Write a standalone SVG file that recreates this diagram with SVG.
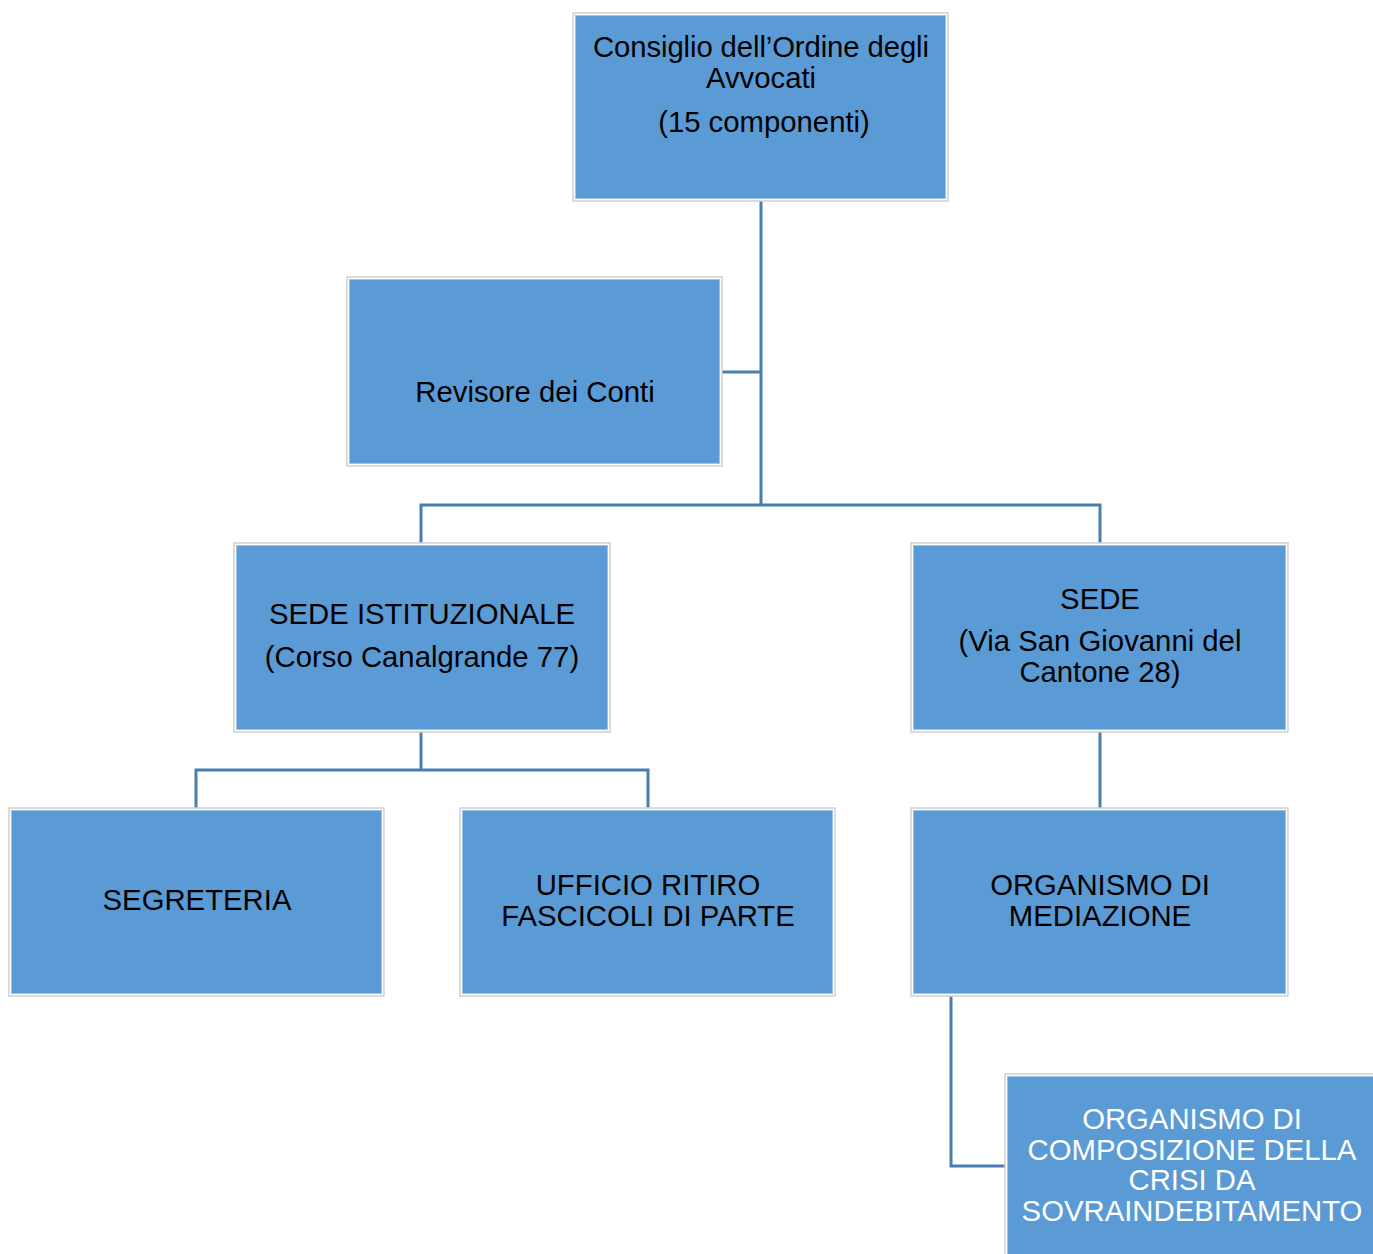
<svg xmlns="http://www.w3.org/2000/svg" width="1373" height="1254" viewBox="0 0 1373 1254">
<style>
.box{fill:#5B9BD5;stroke:#9DC3E6;stroke-width:1}
.frame{fill:none;stroke:#CFCFCF;stroke-width:1.5}
.t{font-family:"Liberation Sans",Arial,sans-serif;font-size:29.3px;fill:#000;text-anchor:middle}
.w{fill:#fff}
.c{fill:none;stroke:#4A7EAF;stroke-width:3}
</style>
<rect width="1373" height="1254" fill="#fff"/>
<g id="connectors">
<path class="c" d="M761 201V505M722 372H761M421 543V505H1100V543"/>
<path class="c" d="M421 732V770M196 808V770H648V808"/>
<path class="c" d="M1100 732V808"/>
<path class="c" d="M951 996V1166H1005"/>
</g>
<g id="n-consiglio">
<rect class="frame" x="573" y="13" width="375" height="188"/>
<rect class="box" x="575.5" y="15.5" width="370" height="183"/>
<text class="t" x="761" y="57" textLength="336" lengthAdjust="spacing">Consiglio dell’Ordine degli</text>
<text class="t" x="761" y="88">Avvocati</text>
<text class="t" x="764" y="132">(15 componenti)</text>
</g>
<g id="n-revisore">
<rect class="frame" x="347" y="277" width="375" height="189"/>
<rect class="box" x="349.5" y="279.5" width="370" height="184"/>
<text class="t" x="535" y="402">Revisore dei Conti</text>
</g>
<g id="n-sede-ist">
<rect class="frame" x="234" y="543" width="376" height="189"/>
<rect class="box" x="236.5" y="545.5" width="371" height="184"/>
<text class="t" x="422" y="624">SEDE ISTITUZIONALE</text>
<text class="t" x="422" y="667">(Corso Canalgrande 77)</text>
</g>
<g id="n-sede">
<rect class="frame" x="911" y="543" width="377" height="189"/>
<rect class="box" x="913.5" y="545.5" width="372" height="184"/>
<text class="t" x="1100" y="609">SEDE</text>
<text class="t" x="1100" y="651">(Via San Giovanni del</text>
<text class="t" x="1100" y="682">Cantone 28)</text>
</g>
<g id="n-segreteria">
<rect class="frame" x="9" y="808" width="375" height="188"/>
<rect class="box" x="11.5" y="810.5" width="370" height="183"/>
<text class="t" x="197" y="910">SEGRETERIA</text>
</g>
<g id="n-ufficio">
<rect class="frame" x="460" y="808" width="375" height="188"/>
<rect class="box" x="462.5" y="810.5" width="370" height="183"/>
<text class="t" x="648" y="895">UFFICIO RITIRO</text>
<text class="t" x="648" y="926">FASCICOLI DI PARTE</text>
</g>
<g id="n-mediazione">
<rect class="frame" x="911" y="808" width="377" height="188"/>
<rect class="box" x="913.5" y="810.5" width="372" height="183"/>
<text class="t" x="1100" y="895">ORGANISMO DI</text>
<text class="t" x="1100" y="926">MEDIAZIONE</text>
</g>
<g id="n-crisi">
<rect class="frame" x="1005" y="1074" width="375" height="190"/>
<rect class="box" x="1007.5" y="1076.5" width="370" height="185"/>
<text class="t w" x="1192" y="1129">ORGANISMO DI</text>
<text class="t w" x="1192" y="1160">COMPOSIZIONE DELLA</text>
<text class="t w" x="1192" y="1190">CRISI DA</text>
<text class="t w" x="1192" y="1221">SOVRAINDEBITAMENTO</text>
</g>
</svg>
